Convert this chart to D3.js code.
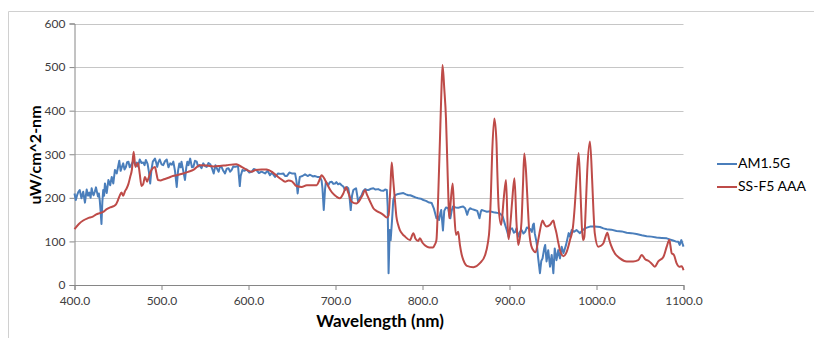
<!DOCTYPE html>
<html><head><meta charset="utf-8">
<script src="https://cdn.jsdelivr.net/npm/d3@7"></script>
<style>
html,body{margin:0;padding:0;background:#fff;}
text{font-family:Lato,"Liberation Sans",sans-serif;}
</style></head>
<body><svg id="c" width="814" height="338"></svg>
<script>
const xTicks = [400,500,600,700,800,900,1000,1100];
const yTicks = [0,100,200,300,400,500,600];
const seriesNames = ["AM1.5G","SS-F5 AAA"];
const seriesColors = ["#4A7EBB","#BE4B48"];

const am15gWl = [400,401.5,403,404.5,406,408,410,412,414,415.5,417,418.5,419.7,421,422,423.5,424.7,426,427,428,429,430,431,432,433,434,435,437,439,441,442.8,444.6,446.5,448.5,450,451.5,453,454,456,457.5,459,460.5,462,463.5,465,467.6,469.5,471.5,473,475,477,479,480.5,482,484,485.5,487,488.5,490,492.5,494,495,496.5,498,500,502,504,506,508,510,512,513.6,515.5,517.5,519,520.5,522,523,525,527,528.5,529.7,531,533,535,536.6,538.5,540.5,542,543.5,546,548,550,552,554,556,558,560,562,564,565.7,567,569,571,573,575,577,579,580.7,582.5,584.5,588,589,590,591,593,595,598,601,603.7,606,609,612,615,619,622,624.7,627,630.5,634,637,640,642,644,647,649.7,653.5,655,656.5,658,659,662,665,668,670.7,674,676,679,682,684,685,686.5,688,689,691.7,693.5,695.6,697.5,699.5,701,703,705,707,709,711,713,714.7,716,717.5,719,720.5,722,723.6,725,726,728,730,732,734,736,738,741,743.5,746,749,752,755,757,759,760,761,762.3,763.4,765,766.4,768.4,772,775,778,781,783.7,786,789.5,792,795,798,801,804,806.7,810.6,813,816,818,819,820.5,821.5,823.5,825,827,829.5,831,832,833.5,835,838,841,844,846.7,849,851.4,853,854.6,857,860,863,865.5,867,868,871,874,878,881.6,885,889,892,895,897,899,901,903,905,906.6,908,910,912,914,916,918,920,922,924,925.7,927,928,929,931,931.5,933,935,936.5,938,940,941,942.6,944.5,946.6,948.5,950.4,952,954,956,958,960,962,965,968,969.5,971.5,974,977,981,984,988,992.5,998,1004,1008,1011.8,1017,1023,1029,1034.7,1040,1046,1052,1057.7,1063,1069,1075,1080.7,1085,1088,1091,1094,1095.6,1097.5,1099,1100];
const am15gVal = [210,195,206,214,218,199,214,189,219,205,212,200,222,210,206,215,224,212,203,210,195,170,140,190,218,205,233,211,241,229,248,233,264,256,270,285,262,268,279,265,270,282,283,270,275,285,276,281,272,288,280,281,275,287,278,260,233,265,283,290,280,271,282,288,277,275,284,288,270,279,276,283,262,225,262,279,270,283,262,241,270,283,275,290,270,271,285,283,272,275,268,279,273,271,280,277,268,256,275,266,260,270,271,262,256,267,268,260,264,272,271,273,250,227,250,264,262,265,258,260,266,264,257,260,256,262,252,258,248,256,255,256,250,250,258,256,256,240,210,235,248,250,254,250,253,249,250,248,248,240,222,172,220,237,229,236,237,232,233,236,231,233,229,226,218,225,222,205,172,205,218,220,222,205,191,200,206,216,220,218,218,221,222,219,220,217,216,219,218,180,27,126,103,149,195,206,209,210,211,208,206,206,203,201,199,198,195,193,190,188,176,153,157,149,165,172,125,170,178,176,160,153,170,180,178,177,179,180,176,161,172,176,174,172,170,153,168,172,170,168,169,167,166,164,158,138,125,111,128,130,120,122,130,111,122,126,118,122,132,130,128,122,138,141,119,99,92,61,27,55,61,85,92,54,80,42,69,27,84,57,80,61,88,73,92,119,111,126,122,126,119,126,131,134,134,133,130,128,127,124,123,120,119,117,114,112,111,109,108,107,104,102,100,99,92,103,94,88];

const ssf5Wl = [400,405,410,415,421,425,429,433,437,441,445,448,450,452,454,456,458,460,462,464,466,468,470,473,475,477,479,481,483.5,485,487.5,490,492.5,494,496,499,502,508,513,517.5,525,531,536.6,544,552,560,567,575,586,592,598,603.7,608,615,621,628,634,638,642,646,650,655,661,667,672.6,678.4,681,684,688,691,694,697.5,701,705,709,712,715,718.6,724,728,731,734,736,738,741,743.5,747,751,755,759,761,763,764.6,766,767,768.5,770,772,774,777,780,785.6,789.5,792,795,797,800,805,808,812,814,816,818,820,821.5,823,825,827,828.5,830,830.8,832.4,834.7,836.6,838.5,841,843,845,847,851,858.5,866,872,875,877,878.5,880,882.6,885,886,887.6,890.4,893.4,896,898,899,901,903,905.7,908,910,912,913.8,915.5,917,919,920,923,925,928,930,933,935,938,940,942.7,946.6,950.4,952,954,956,958,962,965.7,969.5,973,975,977,979.5,981.8,983,984.5,986,987.5,989.4,992.5,995,996.5,998,1002,1005,1008,1010,1012.5,1014.5,1016.5,1021,1027,1034.7,1042,1048,1052,1056,1060,1063,1067,1071,1077,1080.7,1083.7,1085,1086.4,1089,1092,1095,1098,1100];
const ssf5Val = [128,140,148,153,157,162,165,168,174,178,181,186,195,205,212,205,215,222,232,248,265,306,271,280,255,227,232,248,237,245,260,268,271,258,241,240,242,246,250,252,256,260,264,275,274,272,273,275,277,271,264,260,264,265,265,258,248,242,237,240,238,227,225,229,229,229,238,252,241,229,218,209,203,199,210,224,210,191,187,195,206,218,208,199,186,176,170,166,161,155,160,220,281,250,225,190,157,138,126,117,111,103,119,106,101,107,97,88,86,86,92,103,200,330,430,505,451,382,283,185,153,191,233,161,115,122,92,70,57,44,41,50,69,95,130,200,298,382,329,260,176,138,199,241,130,105,140,191,245,145,92,110,145,230,302,260,222,115,90,78,75,103,125,148,140,134,138,148,135,119,98,80,66,76,103,134,180,241,303,203,140,103,110,170,264,329,241,170,119,88,90,96,108,120,105,92,73,61,54,54,57,69,59,55,50,42,54,65,88,103,90,73,69,50,42,43,34];

const svg = d3.select("#c");
svg.append("rect").attr("width",814).attr("height",338).attr("fill","#fff");
svg.append("path").attr("d","M8.5,338V11.5H814").attr("fill","none").attr("stroke","#d0d0d0");

const x = d3.scaleLinear().domain([400,1100]).range([74.5,683.5]);
const y = d3.scaleLinear().domain([0,600]).range([285,23.5]);

svg.append("g").selectAll("line").data(yTicks.filter(d=>d>0)).join("line")
  .attr("x1",x(400)).attr("x2",x(1100))
  .attr("y1",d=>Math.round(y(d))+0.5).attr("y2",d=>Math.round(y(d))+0.5)
  .attr("stroke","#c6c6c6").attr("stroke-width",1);

const yAxis = svg.append("g").attr("transform",`translate(${x(400)},0)`)
  .call(d3.axisLeft(y).tickValues(yTicks).tickSize(5).tickPadding(4).tickFormat(d3.format("d")));
const xAxis = svg.append("g").attr("transform",`translate(0,${y(0)})`)
  .call(d3.axisBottom(x).tickValues(xTicks).tickSize(5).tickPadding(6).tickFormat(d3.format(".1f")));
[yAxis,xAxis].forEach(g=>{
  g.select(".domain").attr("stroke","#868686");
  g.selectAll(".tick line").attr("stroke","#868686");
  g.selectAll(".tick text").attr("fill","#404040").style("font-size","12px").style("font-family","Lato, sans-serif");
});

const lineAm = d3.line().x(d=>x(d[0])).y(d=>y(d[1]));
const lineSs = d3.line().x(d=>x(d[0])).y(d=>y(d[1])).curve(d3.curveMonotoneX);
const am = am15gWl.map((w,i)=>[w,am15gVal[i]]);
const ss = ssf5Wl.map((w,i)=>[w,ssf5Val[i]]);
svg.append("path").datum(am).attr("d",lineAm).attr("fill","none")
  .attr("stroke",seriesColors[0]).attr("stroke-width",2).attr("stroke-linejoin","round");
svg.append("path").datum(ss).attr("d",lineSs).attr("fill","none")
  .attr("stroke",seriesColors[1]).attr("stroke-width",2).attr("stroke-linejoin","round");

svg.append("text").attr("transform","translate(37,155) rotate(-90)")
  .attr("text-anchor","middle").attr("dominant-baseline","middle")
  .style("font-weight","bold").style("font-size","16px").attr("fill","#000").text("uW/cm^2-nm");
svg.append("text").attr("x",380).attr("y",323).attr("text-anchor","middle")
  .attr("dominant-baseline","middle")
  .style("font-weight","bold").style("font-size","17px").attr("fill","#000").text("Wavelength (nm)");

const lg = svg.append("g").selectAll("g").data(seriesNames).join("g")
  .attr("transform",(d,i)=>`translate(717,${164+i*23})`);
lg.append("line").attr("x1",0).attr("x2",20).attr("y1",0).attr("y2",0)
  .attr("stroke",(d,i)=>seriesColors[i]).attr("stroke-width",2);
lg.append("text").attr("x",21).attr("y",0).attr("dominant-baseline","middle")
  .style("font-size","14px").attr("fill","#000").text(d=>d);
</script></body></html>
